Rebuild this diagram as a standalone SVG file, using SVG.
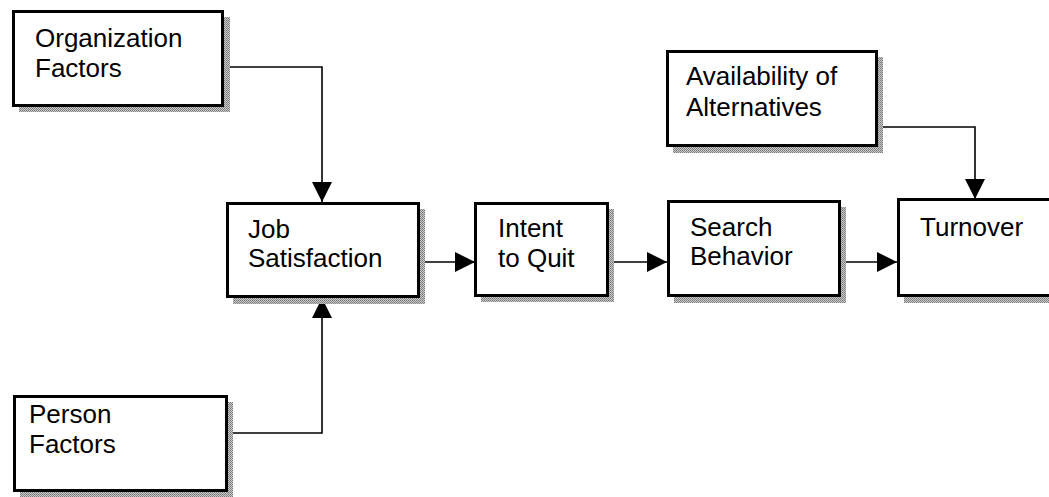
<svg xmlns="http://www.w3.org/2000/svg" width="1049" height="497" viewBox="0 0 1049 497">
<style>
.box{fill:#fff;stroke:#000;stroke-width:3}
.sh{fill:url(#dots)}
.t{font-family:"Liberation Sans",Arial,sans-serif;font-size:26px;fill:#000}
.c{fill:none;stroke:#000;stroke-width:1.6;marker-end:url(#ah)}
</style>
<defs>
<pattern id="dots" width="2" height="2" patternUnits="userSpaceOnUse">
<rect width="2" height="2" fill="#c8c8c8"/>
<rect width="1" height="1" fill="#7a7a7a"/>
<rect x="1" y="1" width="1" height="1" fill="#8a8a8a"/>
</pattern>
<marker id="ah" markerUnits="userSpaceOnUse" markerWidth="20" markerHeight="20" refX="20" refY="10" orient="auto" viewBox="0 0 20 20">
<path d="M0,0 L20,10 L0,20 Z" fill="#000"/>
</marker>
</defs>
<rect width="1049" height="497" fill="#fff"/>
<g id="connectors">
<path class="c" d="M224,67 H322 V202"/>
<path class="c" d="M228,433 H322 V298"/>
<path class="c" d="M420,262 H475"/>
<path class="c" d="M609,262 H667"/>
<path class="c" d="M841,262 H897"/>
<path class="c" d="M878,127 H975 V199"/>
</g>
<g id="org">
<rect class="sh" x="19" y="17" width="211" height="95"/>
<rect class="box" x="13.5" y="11.5" width="209" height="94"/>
<text class="t" x="35" y="47">Organization</text>
<text class="t" x="35" y="77">Factors</text>
</g>
<g id="person">
<rect class="sh" x="20" y="402" width="213" height="95"/>
<rect class="box" x="14.5" y="396.5" width="212" height="94"/>
<text class="t" x="29" y="423">Person</text>
<text class="t" x="29" y="453">Factors</text>
</g>
<g id="job">
<rect class="sh" x="233" y="209" width="192" height="95"/>
<rect class="box" x="227.5" y="203.5" width="191" height="93"/>
<text class="t" x="248" y="238">Job</text>
<text class="t" x="248" y="267">Satisfaction</text>
</g>
<g id="intent">
<rect class="sh" x="481" y="209" width="133" height="93"/>
<rect class="box" x="475.5" y="203.5" width="132" height="92"/>
<text class="t" x="498" y="237">Intent</text>
<text class="t" x="498" y="267">to Quit</text>
</g>
<g id="search">
<rect class="sh" x="674" y="207" width="172" height="96"/>
<rect class="box" x="668.5" y="201.5" width="171" height="94"/>
<text class="t" x="690" y="236">Search</text>
<text class="t" x="690" y="265">Behavior</text>
</g>
<g id="turnover">
<rect class="sh" x="904" y="205" width="171" height="98"/>
<rect class="box" x="898.5" y="199.5" width="170" height="96"/>
<text class="t" x="920" y="236">Turnover</text>
</g>
<g id="avail">
<rect class="sh" x="673" y="57" width="210" height="96"/>
<rect class="box" x="667.5" y="51.5" width="209" height="94"/>
<text class="t" x="686" y="85">Availability of</text>
<text class="t" x="686" y="116">Alternatives</text>
</g>
</svg>
